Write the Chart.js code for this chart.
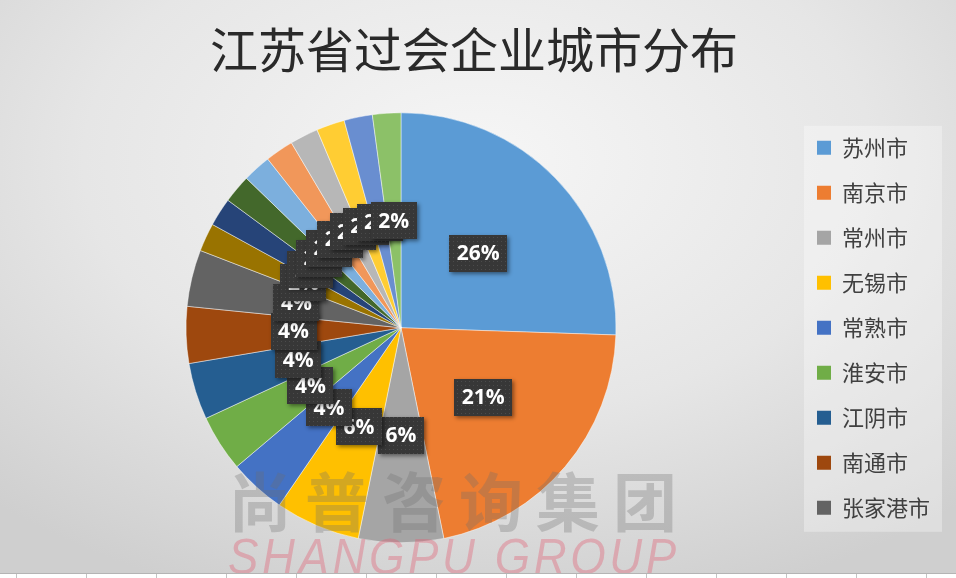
<!DOCTYPE html>
<html>
<head>
<meta charset="utf-8">
<script src="https://cdn.jsdelivr.net/npm/chart.js@4"></script>
<style>
html,body{margin:0;padding:0;}
body{width:956px;height:578px;overflow:hidden;position:relative;
  background:radial-gradient(ellipse 75% 80% at 50% 28%, #f6f6f6 0%, #e6e6e6 55%, #cfcfcf 100%);}
#c{position:absolute;left:0;top:0;}
.wm{position:absolute;pointer-events:none;white-space:nowrap;}
#wm1{left:228px;top:452px;font-family:"Noto Sans CJK SC";font-weight:bold;font-size:64px;letter-spacing:13px;color:rgba(110,110,110,0.30);}
#wm2{left:228px;top:528px;font-family:"Liberation Sans";font-style:italic;font-size:50px;letter-spacing:4px;color:rgba(225,95,115,0.38);transform:scaleX(0.91);transform-origin:0 0;}
#strip{position:absolute;left:0;top:573px;width:956px;height:5px;background:#fff;border-top:1px solid #b4b4b4;
  background-image:repeating-linear-gradient(to right,#c4c4c4 0 1px,transparent 1px 70px);background-position:16px 0;}
</style>
</head>
<body>
<canvas id="c" width="956" height="578"></canvas>
<div class="wm" id="wm1">尚普咨询集团</div>
<div class="wm" id="wm2">SHANGPU GROUP</div>
<div id="strip"></div>
<script>
const chartTitle = '江苏省过会企业城市分布';
const categories = ['苏州市','南京市','常州市','无锡市','常熟市','淮安市','江阴市','南通市','张家港市',
                    '昆山市','扬州市','镇江市','泰州市','盐城市','徐州市','宜兴市','太仓市','宿迁市'];
const companyCounts = [12,10,3,3,2,2,2,2,2,1,1,1,1,1,1,1,1,1];
const sliceColors = ['#5B9BD5','#ED7D31','#A5A5A5','#FFC000','#4472C4','#70AD47',
                     '#255E91','#9E480E','#636363','#997300','#264478','#43682B',
                     '#7CAFDD','#F1975A','#B7B7B7','#FFCD33','#698ED0','#8CC168'];
const legendShown = 9;

// dotted texture for the label boxes
const pc = document.createElement('canvas'); pc.width = 4; pc.height = 4;
const pctx = pc.getContext('2d');
pctx.fillStyle = 'rgba(255,255,255,0.10)'; pctx.fillRect(1,1,1,1);

const legendBg = {
  id:'legendBg',
  beforeDraw(chart){
    const lg = chart.legend; if(!lg) return;
    const ctx = chart.ctx;
    const n = lg.legendItems ? lg.legendItems.length : 0;
    const h = n*45 + 1;
    const cy = (lg.top + lg.bottom)/2 + 1;
    ctx.save();
    ctx.fillStyle = 'rgba(255,255,255,0.32)';
    ctx.fillRect(lg.left + 10, cy - h/2, lg.width - 8, h);
    ctx.restore();
  }
};

const boxLabels = {
  id:'boxLabels',
  afterDatasetsDraw(chart){
    const ctx = chart.ctx;
    const meta = chart.getDatasetMeta(0);
    const data = chart.data.datasets[0].data;
    const total = data.reduce((a,b)=>a+b,0);
    const pattern = ctx.createPattern(pc,'repeat');
    ctx.save();
    ctx.font = 'bold 21px "Open Sans"';
    meta.data.forEach((arc,i)=>{
      const p = arc.tooltipPosition(true);
      const txt = Math.round(data[i]/total*100) + '%';
      const tw = ctx.measureText(txt).width;
      const w = Math.round(tw + 15), h = 37;
      const x = Math.round(p.x - w/2), y = Math.round(p.y - h/2);
      ctx.save();
      ctx.shadowColor = 'rgba(0,0,0,0.45)'; ctx.shadowBlur = 4;
      ctx.shadowOffsetX = 2; ctx.shadowOffsetY = 2;
      ctx.fillStyle = '#373737'; ctx.fillRect(x,y,w,h);
      ctx.restore();
      ctx.fillStyle = pattern; ctx.fillRect(x,y,w,h);
      ctx.fillStyle = '#ffffff'; ctx.textAlign = 'center'; ctx.textBaseline = 'middle';
      ctx.fillText(txt, p.x, p.y + 1);
    });
    ctx.restore();
  }
};

new Chart(document.getElementById('c'), {
  type:'pie',
  data:{
    labels: categories,
    datasets:[{
      data: companyCounts,
      backgroundColor: sliceColors,
      borderColor: 'rgba(255,255,255,0.45)',
      borderWidth: 1,
      radius: 215
    }]
  },
  options:{
    responsive:false,
    animation:false,
    devicePixelRatio:1,
    layout:{padding:{left:8,right:16,top:0,bottom:21}},
    plugins:{
      title:{display:true,text:chartTitle,color:'#2a2a2a',
        font:{family:'"Noto Sans CJK SC"',size:48,weight:'normal'},padding:{top:21,bottom:20}},
      legend:{position:'right',align:'center',fullSize:false,
        labels:{boxWidth:14,boxHeight:14,padding:23,color:'#404040',
          font:{family:'"Noto Sans CJK SC"',size:22},
          filter:(item)=>item.index < legendShown,
          generateLabels:(chart)=>Chart.overrides.doughnut.plugins.legend.labels.generateLabels(chart)
            .map(it=>Object.assign(it,{lineWidth:0}))}},
      tooltip:{enabled:false}
    }
  },
  plugins:[legendBg, boxLabels]
});
</script>
</body>
</html>
